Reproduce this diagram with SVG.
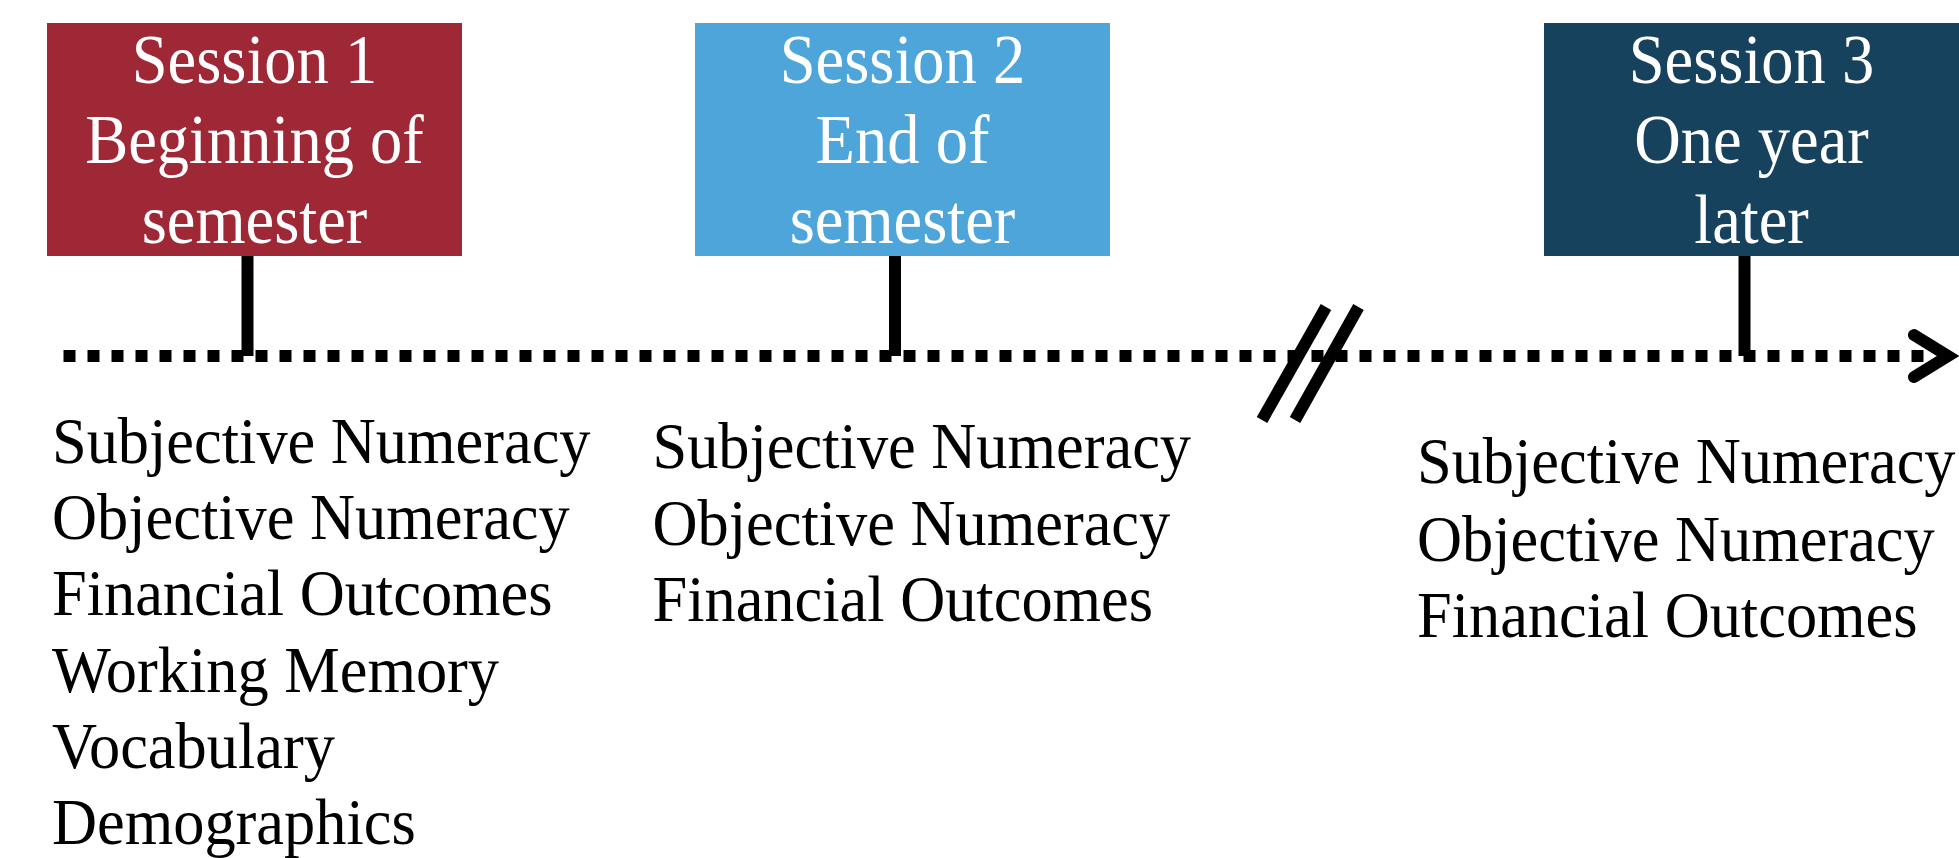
<svg xmlns="http://www.w3.org/2000/svg" width="1959" height="858" viewBox="0 0 1959 858">
  <style>
    .title { font-family: "Liberation Serif", "Times New Roman", serif; font-size: 69px; fill: #ffffff; text-anchor: middle; }
    .item { font-family: "Liberation Serif", "Times New Roman", serif; font-size: 66px; fill: #000000; }
    .stem { stroke: #000000; stroke-width: 12; fill: none; }
    .timeline { stroke: #000000; stroke-width: 12; stroke-dasharray: 12 12; fill: none; }
    .brk { stroke: #000000; stroke-width: 12; fill: none; }
    .arrow { stroke: #000000; stroke-width: 12; fill: none; stroke-linecap: round; stroke-linejoin: miter; }
  </style>
  <rect x="0" y="0" width="1959" height="858" fill="#ffffff"/>

  <g id="connectors">
    <line class="timeline" x1="63.5" y1="356" x2="1924" y2="356"/>
    <line class="stem" x1="247.5" y1="255" x2="247.5" y2="356"/>
    <line class="stem" x1="895" y1="255" x2="895" y2="356"/>
    <line class="stem" x1="1744.5" y1="255" x2="1744.5" y2="356"/>
    <line class="brk" x1="1326" y1="307" x2="1262" y2="420"/>
    <line class="brk" x1="1358.5" y1="307" x2="1295" y2="420"/>
    <polyline class="arrow" points="1914,335 1948,356 1914,377"/>
  </g>

  <g id="session1">
    <rect x="47" y="23" width="415" height="233" fill="#9F2837"/>
    <text class="title" transform="translate(254.5,83) scale(0.935,1)">Session 1</text>
    <text class="title" transform="translate(254.5,163) scale(0.935,1)">Beginning of</text>
    <text class="title" transform="translate(254.5,243) scale(0.935,1)">semester</text>
  </g>

  <g id="session2">
    <rect x="695" y="23" width="415" height="233" fill="#4EA5D9"/>
    <text class="title" transform="translate(902.5,83) scale(0.935,1)">Session 2</text>
    <text class="title" transform="translate(902.5,163) scale(0.935,1)">End of</text>
    <text class="title" transform="translate(902.5,243) scale(0.935,1)">semester</text>
  </g>

  <g id="session3">
    <rect x="1544" y="23" width="415" height="233" fill="#17425D"/>
    <text class="title" transform="translate(1751.5,83) scale(0.935,1)">Session 3</text>
    <text class="title" transform="translate(1751.5,163) scale(0.935,1)">One year</text>
    <text class="title" transform="translate(1751.5,243) scale(0.935,1)">later</text>
  </g>

  <g id="measures1">
    <text class="item" transform="translate(52,462.7) scale(0.945,1)">Subjective Numeracy</text>
    <text class="item" transform="translate(52,539) scale(0.945,1)">Objective Numeracy</text>
    <text class="item" transform="translate(52,615) scale(0.945,1)">Financial Outcomes</text>
    <text class="item" transform="translate(52,691.5) scale(0.945,1)">Working Memory</text>
    <text class="item" transform="translate(52,767.5) scale(0.945,1)">Vocabulary</text>
    <text class="item" transform="translate(52,844) scale(0.945,1)">Demographics</text>
  </g>

  <g id="measures2">
    <text class="item" transform="translate(652.5,468.3) scale(0.945,1)">Subjective Numeracy</text>
    <text class="item" transform="translate(652.5,545) scale(0.945,1)">Objective Numeracy</text>
    <text class="item" transform="translate(652.5,620.5) scale(0.945,1)">Financial Outcomes</text>
  </g>

  <g id="measures3">
    <text class="item" transform="translate(1417,483.3) scale(0.945,1)">Subjective Numeracy</text>
    <text class="item" transform="translate(1417,561) scale(0.945,1)">Objective Numeracy</text>
    <text class="item" transform="translate(1417,636.7) scale(0.945,1)">Financial Outcomes</text>
  </g>
</svg>
